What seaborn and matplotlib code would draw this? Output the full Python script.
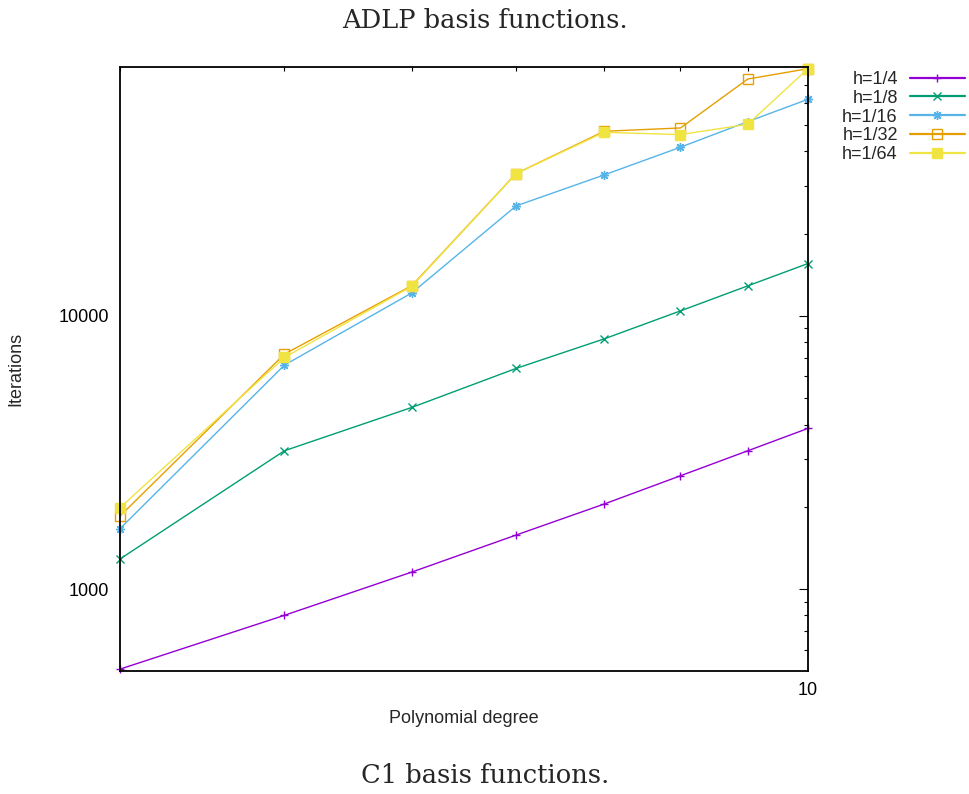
import matplotlib
matplotlib.use("Agg")
import matplotlib.pyplot as plt
from matplotlib.ticker import LogLocator, NullFormatter, FuncFormatter
import pandas as pd
import seaborn as sns

# Polynomial degree on the x axis, solver iteration counts per mesh size
degrees = [3, 4, 5, 6, 7, 8, 9, 10]
h_labels = ["h=1/4", "h=1/8", "h=1/16", "h=1/32", "h=1/64"]
iters_h4 = [509, 801, 1154, 1576, 2047, 2598, 3207, 3873]
iters_h8 = [1288, 3207, 4623, 6421, 8237, 10430, 12880, 15550]
iters_h16 = [1663, 6602, 12140, 25270, 32810, 41450, 51420, 62080]
iters_h32 = [1850, 7244, 12910, 33190, 47410, 48750, 73650, 80350]
iters_h64 = [1984, 7044, 12840, 33190, 47000, 46100, 50270, 80350]

series = [iters_h4, iters_h8, iters_h16, iters_h32, iters_h64]
colors = ["#9400D3", "#009E73", "#56B4E9", "#E69F00", "#F0E442"]
markers = ["+", "x", (8, 2, 0), "s", "s"]
msizes = [6, 5.5, 6.5, 6.5, 6.5]
filled = [True, True, True, False, True]

X_RANGE = (3, 10)
Y_RANGE = (501, 81500)
FS = 13

df = pd.DataFrame(
    [(d, v, lab) for lab, vals in zip(h_labels, series) for d, v in zip(degrees, vals)],
    columns=["degree", "iterations", "h"],
)

sns.set_style("white")
plt.rcParams["font.family"] = ["Liberation Sans", "DejaVu Sans"]

fig = plt.figure(figsize=(9.70, 7.94), dpi=100)
ax = fig.add_axes([120 / 970, 1 - 671 / 794, 688 / 970, 604 / 794])

for lab, col, mk, ms, fill in zip(h_labels, colors, markers, msizes, filled):
    sub = df[df["h"] == lab]
    sns.lineplot(
        data=sub, x="degree", y="iterations", ax=ax, color=col, lw=1.0,
        marker=mk, ms=ms, mec=col, mew=1.0,
        mfc=(col if fill else "none"), legend=False, clip_on=False,
    )

ax.set_xscale("log")
ax.set_yscale("log")
ax.set_xlim(*X_RANGE)
ax.set_ylim(*Y_RANGE)

fmt = FuncFormatter(lambda v, _: f"{v:g}")
for axis in (ax.xaxis, ax.yaxis):
    axis.set_major_locator(LogLocator(base=10))
    axis.set_minor_locator(LogLocator(base=10, subs=range(2, 10)))
    axis.set_major_formatter(fmt)
    axis.set_minor_formatter(NullFormatter())

ax.tick_params(which="both", direction="in", top=True, right=True,
               labelsize=FS, color="black", labelcolor="black")
ax.tick_params(which="major", length=6.5, width=0.8, pad=8)
ax.tick_params(which="minor", length=3.2, width=0.8)
for sp in ax.spines.values():
    sp.set_linewidth(1.3)
    sp.set_color("black")

ax.set_xlabel("Polynomial degree", fontsize=FS)
ax.set_ylabel("Iterations", fontsize=FS)
ax.xaxis.set_label_coords(0.5, -0.064)
ax.yaxis.set_label_coords(-0.1395, 0.5)

leg = ax.legend(
    handles=list(ax.get_lines()), labels=h_labels, loc="upper right",
    bbox_to_anchor=(965 / 970, 1 - 71 / 794), bbox_transform=fig.transFigure,
    frameon=False, markerfirst=False, fontsize=FS, handlelength=3.05,
    handletextpad=0.67, labelspacing=0.1, borderpad=0, borderaxespad=0,
)
for hnd in leg.legend_handles:
    hnd.set_linewidth(1.6)

serif = ["DejaVu Serif"]
fig.text(0.5, 1 - 28 / 794, "ADLP basis functions.", ha="center", va="baseline",
         fontsize=18.5, family=serif)
fig.text(0.5, 1 - 783 / 794, "C1 basis functions.", ha="center", va="baseline",
         fontsize=18.5, family=serif)

fig.savefig("out.png", dpi=100, facecolor="white")
